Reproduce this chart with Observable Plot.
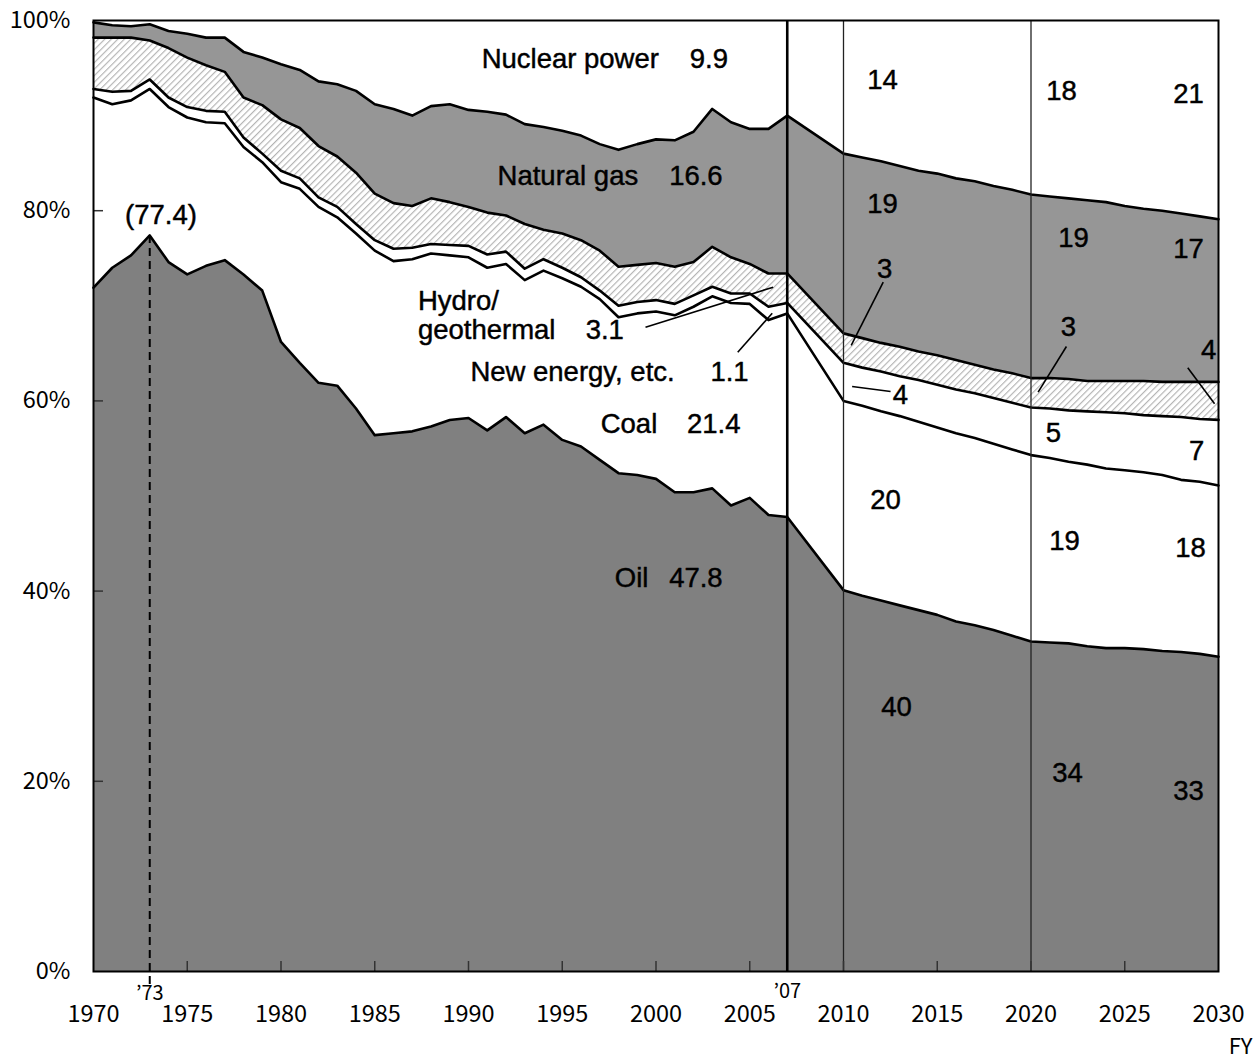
<!DOCTYPE html>
<html><head><meta charset="utf-8">
<script src="https://cdn.jsdelivr.net/npm/d3@7"></script>
<script src="https://cdn.jsdelivr.net/npm/@observablehq/plot@0.6"></script>
<style>html,body{margin:0;padding:0;background:#fff;} #chart svg{display:block;}</style>
</head><body><div id="chart"></div>
<script>
// Fiscal years (historical 1970-2007, outlook 2010-2030)
const years = [1970,1971,1972,1973,1974,1975,1976,1977,1978,1979,
  1980,1981,1982,1983,1984,1985,1986,1987,1988,1989,
  1990,1991,1992,1993,1994,1995,1996,1997,1998,1999,
  2000,2001,2002,2003,2004,2005,2006,2007,
  2010,2011,2012,2013,2014,2015,2016,2017,2018,2019,
  2020,2021,2022,2023,2024,2025,2026,2027,2028,2029,2030];

// Shares of primary energy supply (%)
const oil = [71.9,74.0,75.3,77.4,74.6,73.3,74.2,74.8,73.3,71.6,
  66.2,64.0,61.9,61.6,59.2,56.4,56.6,56.8,57.3,58.0,
  58.2,56.9,58.3,56.6,57.5,55.9,55.2,53.8,52.4,52.2,
  51.8,50.4,50.4,50.8,49.0,49.8,48.0,47.8,
  40.1,39.5,39.0,38.5,38.0,37.5,36.8,36.4,35.9,35.3,
  34.7,34.6,34.5,34.2,34.0,34.0,33.9,33.7,33.6,33.4,33.1];
const coal = [20.0,17.2,16.3,15.4,16.3,16.5,15.1,14.4,13.4,13.5,
  16.8,18.3,18.5,17.7,18.4,19.4,18.1,18.1,18.2,17.3,
  16.9,17.1,16.1,16.1,16.2,17.0,16.8,16.9,16.4,17.0,
  17.6,18.6,19.5,20.2,21.3,20.4,20.5,21.4,
  19.9,20.0,19.9,19.9,19.8,19.7,19.8,19.7,19.6,19.6,
  19.6,19.4,19.1,19.1,18.9,18.7,18.6,18.5,18.1,18.1,18.0];
const newEnergy = [0.9,1.3,1.0,1.0,1.0,1.1,1.2,1.2,1.0,0.9,
  1.2,1.1,1.0,1.1,1.0,1.1,1.3,1.2,1.0,1.1,
  1.2,1.4,1.3,1.2,1.2,1.1,1.0,0.9,1.2,1.2,
  1.2,1.2,1.2,1.0,1.0,1.1,1.4,1.1,
  4.0,4.0,4.2,4.2,4.4,4.5,4.6,4.7,4.8,4.9,
  5.0,5.2,5.4,5.6,5.9,6.0,6.0,6.2,6.6,6.6,6.9];
const hydro = [5.4,5.7,5.6,4.1,5.2,5.2,4.8,4.2,4.2,5.1,
  5.4,5.3,5.4,5.3,5.4,4.9,4.8,4.4,4.8,4.5,
  4.1,4.4,3.8,4.7,3.1,3.6,3.9,4.2,4.1,3.9,
  3.9,3.9,3.5,4.2,3.8,3.1,3.5,3.1,
  3.1,3.1,3.0,3.1,3.0,3.1,3.1,3.0,3.0,3.1,
  3.1,3.2,3.3,3.2,3.3,3.4,3.6,3.6,3.7,3.9,4.0];
const gas = [1.6,1.3,1.2,1.7,1.8,2.5,2.9,3.6,4.8,5.0,
  5.8,6.1,6.8,7.6,8.6,9.4,9.9,9.5,9.7,10.3,
  10.2,10.6,10.6,10.5,10.8,10.8,11.0,11.2,12.3,12.7,
  13.0,13.3,13.7,14.5,14.2,14.2,15.2,16.6,
  18.9,19.0,19.1,19.0,19.0,19.1,19.1,19.3,19.3,19.3,
  19.3,19.1,19.0,19.0,18.8,18.4,18.1,18.0,17.7,17.4,17.1];
const nuclear = [0.2,0.5,0.6,0.4,1.1,1.4,1.8,1.8,3.3,3.9,
  4.6,5.2,6.4,6.7,7.4,8.8,9.3,10.0,9.0,8.8,
  9.4,9.6,9.9,10.9,11.2,11.6,12.1,13.0,13.6,13.0,
  12.5,12.6,11.7,9.3,10.7,11.4,11.4,10.0,
  14.0,14.4,14.8,15.3,15.8,16.1,16.6,16.9,17.4,17.8,
  18.3,18.5,18.7,18.9,19.1,19.5,19.8,20.0,20.3,20.6,20.9];

const sources = ["Oil","Coal","New energy, etc.","Hydro/geothermal","Natural gas","Nuclear power"];
const xTicks = [1970,1975,1980,1985,1990,1995,2000,2005,2010,2015,2020,2025,2030];
const yTicks = [0,20,40,60,80,100];
const peakYear = 1973, peakValue = 77.4, baseYear = 2007;
const outlookYears = [2010, 2020];

// Annotations (text, year, percent) and leader lines
const labels = [
  {text:"Nuclear power", year:1990.7, pct:95.9, anchor:"start"},
  {text:"9.9", year:2001.8, pct:95.9, anchor:"start"},
  {text:"Natural gas", year:1991.55, pct:83.6, anchor:"start"},
  {text:"16.6", year:2000.7, pct:83.6, anchor:"start"},
  {text:"(77.4)", year:1973.6, pct:79.5, anchor:"middle"},
  {text:"Hydro/", year:1987.3, pct:70.5, anchor:"start"},
  {text:"geothermal", year:1987.3, pct:67.4, anchor:"start"},
  {text:"3.1", year:1996.25, pct:67.4, anchor:"start"},
  {text:"New energy, etc.", year:1990.1, pct:63.0, anchor:"start"},
  {text:"1.1", year:2002.9, pct:63.0, anchor:"start"},
  {text:"Coal", year:1997.05, pct:57.5, anchor:"start"},
  {text:"21.4", year:2001.65, pct:57.5, anchor:"start"},
  {text:"Oil", year:1997.8, pct:41.4, anchor:"start"},
  {text:"47.8", year:2000.7, pct:41.4, anchor:"start"},
  {text:"14", year:2012.08, pct:93.7, anchor:"middle"},
  {text:"18", year:2021.63, pct:92.6, anchor:"middle"},
  {text:"21", year:2028.4, pct:92.3, anchor:"middle"},
  {text:"19", year:2012.08, pct:80.65, anchor:"middle"},
  {text:"19", year:2022.27, pct:77.1, anchor:"middle"},
  {text:"17", year:2028.4, pct:76.0, anchor:"middle"},
  {text:"3", year:2012.19, pct:73.9, anchor:"middle"},
  {text:"3", year:2022.0, pct:67.7, anchor:"middle"},
  {text:"4", year:2029.47, pct:65.3, anchor:"middle"},
  {text:"4", year:2013.04, pct:60.6, anchor:"middle"},
  {text:"5", year:2021.2, pct:56.6, anchor:"middle"},
  {text:"7", year:2028.83, pct:54.7, anchor:"middle"},
  {text:"20", year:2012.24, pct:49.6, anchor:"middle"},
  {text:"19", year:2021.79, pct:45.3, anchor:"middle"},
  {text:"18", year:2028.51, pct:44.5, anchor:"middle"},
  {text:"40", year:2012.83, pct:27.8, anchor:"middle"},
  {text:"34", year:2021.95, pct:20.9, anchor:"middle"},
  {text:"33", year:2028.4, pct:19.0, anchor:"middle"}
];
const leaders = [
  {x1:1999.44, y1:67.75, x2:2006.25, y2:71.96},
  {x1:2004.36, y1:65.12, x2:2006.2, y2:69.22},
  {x1:2012.12, y1:72.48, x2:2010.41, y2:65.83},
  {x1:2021.89, y1:65.72, x2:2020.38, y2:60.92},
  {x1:2028.36, y1:63.48, x2:2029.79, y2:59.7},
  {x1:2010.46, y1:61.51, x2:2012.51, y2:60.99}
];

const series = [oil, coal, newEnergy, hydro, gas, nuclear];
const fills = {"Oil":"#808080","Coal":"#ffffff","New energy, etc.":"#ffffff",
  "Hydro/geothermal":"url(#hatch)","Natural gas":"#969696","Nuclear power":"#ffffff"};
const table = years.flatMap((year, i) => sources.map((source, j) => ({year, source, share: series[j][i]})));

const labelFont = "'Liberation Sans', Arial, sans-serif";
const labelStyle = {fontFamily: labelFont, fontSize: 27.5, fill: "#000", stroke: "#000", strokeWidth: 0.45};

const chart = Plot.plot({
  width: 1257, height: 1061,
  marginLeft: 93, marginRight: 39, marginTop: 20, marginBottom: 90,
  style: {fontFamily: "'Noto Sans CJK JP', sans-serif", fontSize: "23.5px", background: "#fff", color: "#000", overflow: "visible"},
  x: {domain: [1970, 2030], ticks: xTicks, tickFormat: d => String(d), tickSize: 0, tickPadding: 34, label: null},
  y: {domain: [0, 100], ticks: yTicks, tickFormat: d => d + "%", tickSize: 0, tickPadding: 23, label: null},
  color: {type: "identity"},
  marks: [
    Plot.areaY(table, {x: "year", y: "share", z: "source", order: sources, fill: d => fills[d.source], curve: "linear"}),
    Plot.lineY(table.filter(d => d.source !== "Nuclear power"),
      Plot.stackY2({x: "year", y: "share", z: "source", order: sources, stroke: "#000", strokeWidth: 2.6, curve: "linear"})),
    Plot.ruleX(outlookYears, {x: d => d, stroke: "#222", strokeWidth: 1.3}),
    Plot.ruleX([baseYear], {x: d => d, stroke: "#000", strokeWidth: 2.6}),
    Plot.ruleX([peakYear], {x: d => d, y1: d => peakValue, y2: d => 0, insetBottom: -14, stroke: "#000", strokeWidth: 2, strokeDasharray: "8,5"}),
    Plot.ruleX(xTicks.slice(1, -1), {x: d => d, y1: d => 0, y2: d => 0, insetTop: -10, stroke: "#333", strokeWidth: 1.5}),
    Plot.ruleY(yTicks.slice(1, -1), {y: d => d, x1: d => 1970, x2: d => 1970, insetRight: -10, stroke: "#333", strokeWidth: 1.5}),
    Plot.frame({stroke: "#000", strokeWidth: 2}),
    Plot.link(leaders, {x1: "x1", y1: "y1", x2: "x2", y2: "y2", stroke: "#000", strokeWidth: 1.6}),
    Plot.text(labels.filter(d => d.anchor === "start"), {x: "year", y: "pct", text: "text", textAnchor: "start", ...labelStyle}),
    Plot.text(labels.filter(d => d.anchor === "middle"), {x: "year", y: "pct", text: "text", textAnchor: "middle", ...labelStyle}),
    Plot.text([peakYear], {x: d => d, y: d => 0, dy: 22, text: d => "’" + String(d).slice(2), fontSize: 20, fill: "#000"}),
    Plot.text([baseYear], {x: d => d, y: d => 0, dy: 20, text: d => "’" + String(d).slice(2), fontSize: 20, fill: "#000"}),
    Plot.text(["FY"], {frameAnchor: "bottom-right", dx: 34, dy: 82, textAnchor: "end", text: d => d, fontSize: 22, fill: "#000"})
  ]
});

const defs = d3.select(chart).insert("defs", ":first-child");
const pat = defs.append("pattern").attr("id", "hatch").attr("patternUnits", "userSpaceOnUse")
  .attr("width", 4.6).attr("height", 4.6).attr("patternTransform", "rotate(45)");
pat.append("rect").attr("width", 4.6).attr("height", 4.6).attr("fill", "#fff");
pat.append("line").attr("x1", 0.6).attr("y1", 0).attr("x2", 0.6).attr("y2", 4.6).attr("stroke", "#b0b0b0").attr("stroke-width", 1.1);

document.getElementById("chart").appendChild(chart);
</script></body></html>
